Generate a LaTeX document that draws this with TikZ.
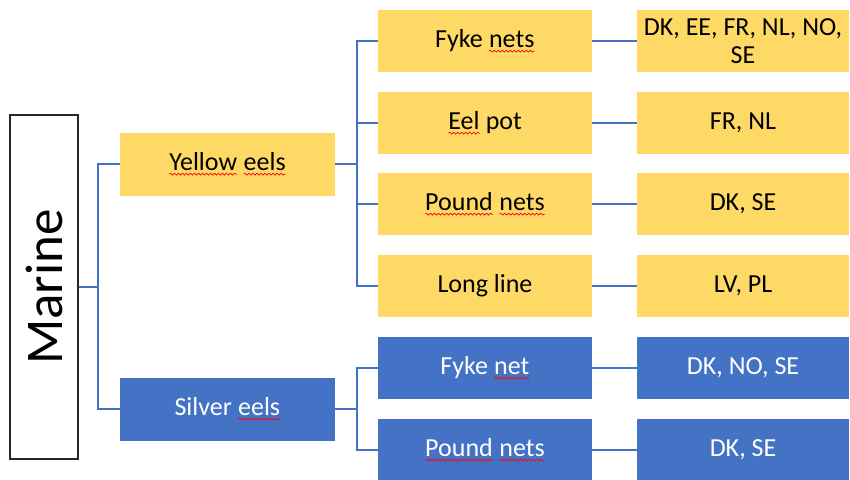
\documentclass[tikz,border=0pt]{standalone}
\usepackage{fontspec}
\setmainfont{Carlito}
\usepackage{graphicx}
\usetikzlibrary{decorations.pathmorphing}

\definecolor{eelyellow}{HTML}{FFD966}
\definecolor{eelblue}{HTML}{4472C4}

% red wavy underline of the spell checker
\newcommand\spellmark[1]{\tikz[baseline=(w.base)]{\node[inner sep=0pt, outer sep=0pt, minimum width=0pt, minimum height=0pt, fill=none, draw=none] (w) {#1};
    \draw[red, line width=0.7pt, decorate, decoration={snake, amplitude=0.9pt, segment length=4pt}] ([yshift=-3.5pt]w.base west) -- ([yshift=-3.5pt]w.base east);}}

\begin{document}
\begin{tikzpicture}[x=1pt, y=-1pt]
        % Box style definitions
        \tikzset{
            rootbox/.style={draw=black!85, line width=1.5pt, minimum width=68pt, minimum height=344pt, inner sep=0pt, font=\fontsize{53}{60}\selectfont},
            stagebox/.style={minimum width=215pt, minimum height=63pt, inner sep=0pt, font=\fontsize{26}{28}\selectfont},
            gearbox/.style={minimum width=214pt, minimum height=62pt, inner sep=0pt, font=\fontsize{26}{28}\selectfont},
            landbox/.style={minimum width=212pt, minimum height=62pt, inner sep=0pt, align=center, font=\fontsize{26}{28}\selectfont},
            link/.style={eelblue, line width=1.4pt}
        }
        \useasboundingbox (0,0) rectangle (850,479);

        % ==========================================
        % ROOT AND LIFE STAGES
        % ==========================================
        \node[rootbox] (marine) at (44,287) {\rotatebox{90}{Marine}};
        \node[stagebox, fill=eelyellow] (yellow) at (227.5,164) {\spellmark{Yellow} \spellmark{eels}};
        \node[stagebox, fill=eelblue, text=white] (silver) at (227.5,409) {Silver \spellmark{eels}};

        % ==========================================
        % GEARS (x = 485)
        % ==========================================
        \node[gearbox, fill=eelyellow] (fykenets) at (485,41) {Fyke \spellmark{nets}};
        \node[gearbox, fill=eelyellow] (eelpot) at (485,123) {\spellmark{Eel} pot};
        \node[gearbox, fill=eelyellow] (poundnets) at (485,204) {\spellmark{Pound} \spellmark{nets}};
        \node[gearbox, fill=eelyellow] (longline) at (485,286) {Long line};
        \node[gearbox, fill=eelblue, text=white] (fykenet) at (485,368) {Fyke \spellmark{net}};
        \node[gearbox, fill=eelblue, text=white] (silverpound) at (485,450) {\spellmark{Pound} \spellmark{nets}};

        % ==========================================
        % COUNTRIES (x = 743)
        % ==========================================
        \node[landbox, fill=eelyellow] (fykenetsland) at (743,41) {DK, EE, FR, NL, NO,\\SE};
        \node[landbox, fill=eelyellow] (eelpotland) at (743,123) {FR, NL};
        \node[landbox, fill=eelyellow] (poundnetsland) at (743,204) {DK, SE};
        \node[landbox, fill=eelyellow] (longlineland) at (743,286) {LV, PL};
        \node[landbox, fill=eelblue, text=white] (fykenetland) at (743,368) {DK, NO, SE};
        \node[landbox, fill=eelblue, text=white] (silverpoundland) at (743,450) {DK, SE};

        % Connectors
        \coordinate (marinebus) at (98,287);
        \draw[link] (marine.east) -- (marinebus);
        \draw[link] (marinebus) |- (yellow.west);
        \draw[link] (marinebus) |- (silver.west);

        \coordinate (yellowbus) at (357,164);
        \draw[link] (yellow.east) -- (yellowbus);
        \draw[link] (yellowbus) |- (fykenets.west);
        \draw[link] (yellowbus) |- (eelpot.west);
        \draw[link] (yellowbus) |- (poundnets.west);
        \draw[link] (yellowbus) |- (longline.west);

        \coordinate (silverbus) at (357,409);
        \draw[link] (silver.east) -- (silverbus);
        \draw[link] (silverbus) |- (fykenet.west);
        \draw[link] (silverbus) |- (silverpound.west);

        \draw[link] (fykenets.east) -- (fykenetsland.west);
        \draw[link] (eelpot.east) -- (eelpotland.west);
        \draw[link] (poundnets.east) -- (poundnetsland.west);
        \draw[link] (longline.east) -- (longlineland.west);
        \draw[link] (fykenet.east) -- (fykenetland.west);
        \draw[link] (silverpound.east) -- (silverpoundland.west);
    \end{tikzpicture}
\end{document}
